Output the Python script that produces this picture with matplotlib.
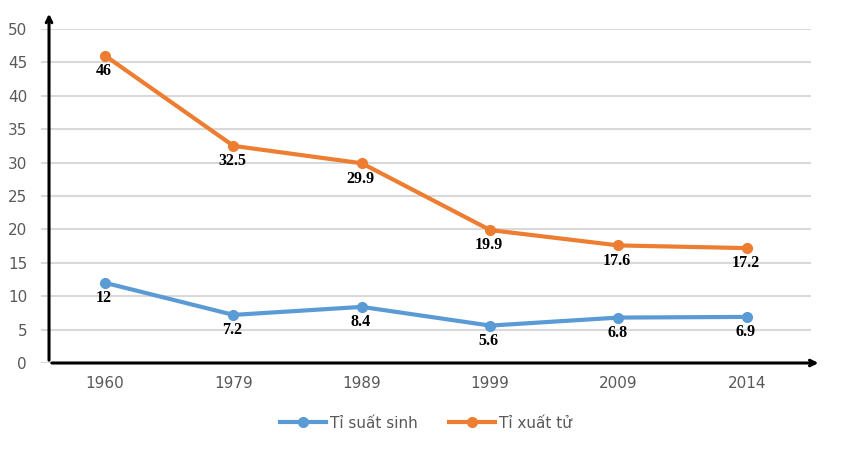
import matplotlib.pyplot as plt

years = ['1960', '1979', '1989', '1999', '2009', '2014']
sinh = [12, 7.2, 8.4, 5.6, 6.8, 6.9]
tu = [46, 32.5, 29.9, 19.9, 17.6, 17.2]
yticks = [0, 5, 10, 15, 20, 25, 30, 35, 40, 45, 50]

blue = '#5B9BD5'
orange = '#ED7D31'

fig = plt.figure(figsize=(8.41, 4.51), dpi=100)
ax = fig.add_axes([41 / 841, 88 / 451, 770 / 841, 334 / 451])

x = list(range(len(years)))
ax.plot(x, sinh, color=blue, lw=3, marker='o', ms=7, label='Tỉ suất sinh', zorder=3)
ax.plot(x, tu, color=orange, lw=3, marker='o', ms=7, label='Tỉ xuất tử', zorder=3)

# nhãn giá trị dưới mỗi điểm
for xs, ys in [(x, sinh), (x, tu)]:
    for i, v in zip(xs, ys):
        ax.annotate(f'{v:g}', (i, v), xytext=(-1, -11), textcoords='offset points',
                    ha='center', va='center', fontsize=11.5, fontweight='bold',
                    family='Liberation Serif', color='black')

ax.set_xlim(-0.5, 5.5)
ax.set_ylim(0, 50)
ax.set_xticks(x)
ax.set_xticklabels(years)
ax.set_yticks(yticks)
ax.tick_params(length=0, labelsize=11, labelcolor='#595959', pad=9)
ax.tick_params(axis='y', pad=10)
ax.grid(axis='y', color='#D9D9D9', lw=1.5)
ax.set_axisbelow(True)
for s in ax.spines.values():
    s.set_visible(False)

# trục có mũi tên
ax.annotate('', xy=(-0.4375, 52.7), xytext=(-0.4375, 0),
            arrowprops=dict(arrowstyle='->', lw=2.2, color='black'),
            annotation_clip=False)
ax.annotate('', xy=(5.58, 0), xytext=(-0.4375, 0),
            arrowprops=dict(arrowstyle='->', lw=2.2, color='black'),
            annotation_clip=False)

ax.legend(loc='center', bbox_to_anchor=(0.5, -0.18), ncol=2, frameon=False,
          fontsize=11, labelcolor='#595959', handlelength=3, columnspacing=2,
          handletextpad=0.3)

fig.savefig('out.png', dpi=100)
